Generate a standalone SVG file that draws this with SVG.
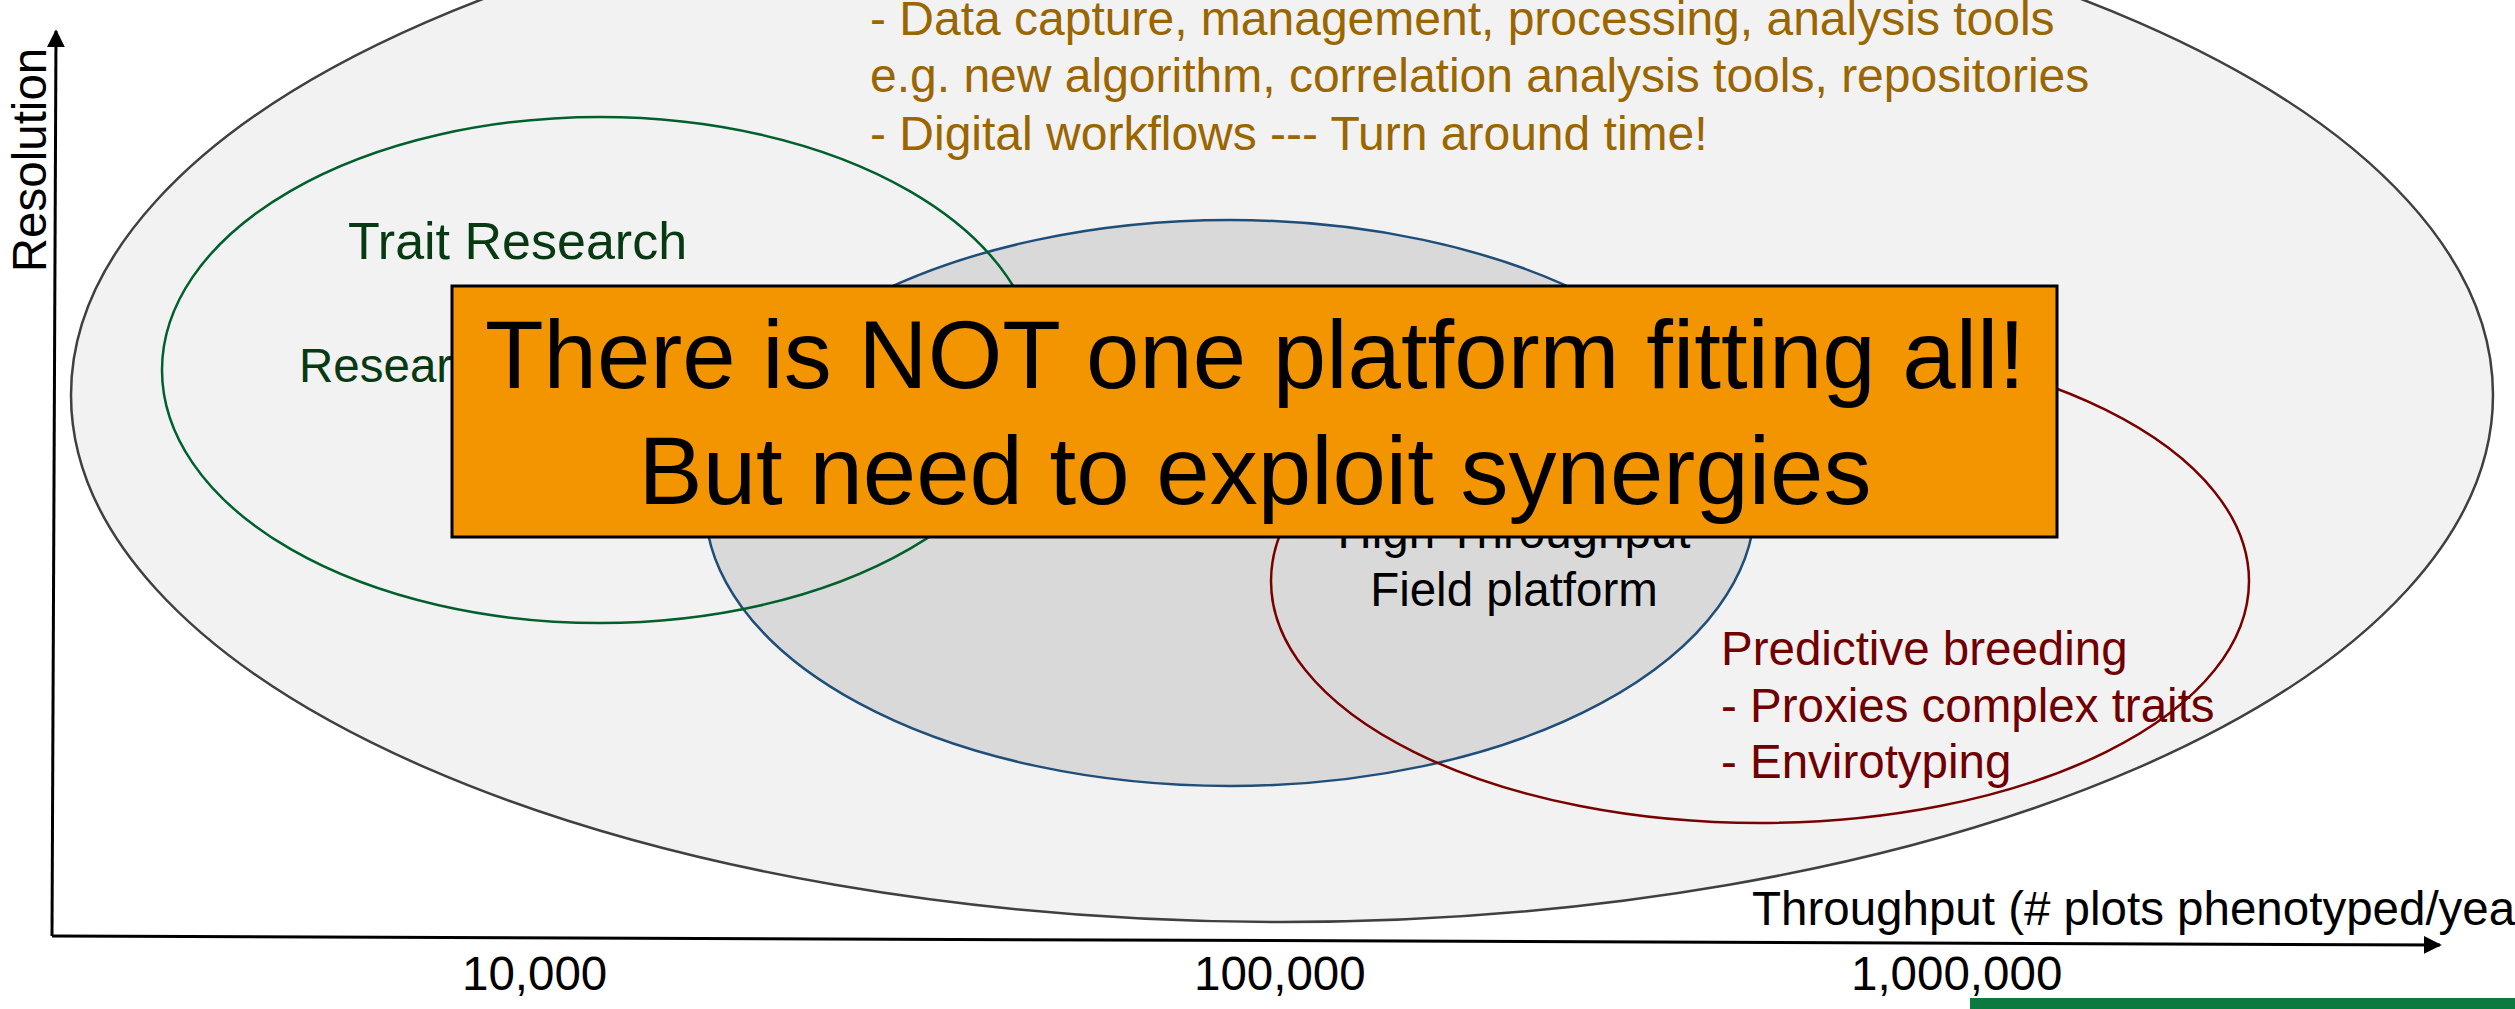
<svg xmlns="http://www.w3.org/2000/svg" width="2515" height="1009" viewBox="0 0 2515 1009">
<style>
text{font-family:"Liberation Sans",Arial,sans-serif}
.brown{fill:#9a6600;font-size:48px}
.green{fill:#073a12}
.red{fill:#700000;font-size:47.5px}
.blk{fill:#000;font-size:47.5px}
.big{fill:#000;font-size:96px}
.axis{stroke:#000;stroke-width:3;fill:none}
</style>
<defs>
<marker id="arr" viewBox="0 0 10 10" refX="9" refY="5" markerWidth="6" markerHeight="6" markerUnits="strokeWidth" orient="auto">
<path d="M0,0 L10,5 L0,10 z" fill="#000"/>
</marker>
</defs>
<rect width="2515" height="1009" fill="#fff"/>
<g id="outer">
<ellipse cx="1282" cy="395" rx="1211" ry="527" fill="#f2f2f2" stroke="#404040" stroke-width="2.5"/>
<text class="brown" x="870" y="35">- Data capture, management, processing, analysis tools</text>
<text class="brown" x="870" y="92">e.g. new algorithm, correlation analysis tools, repositories</text>
<text class="brown" x="870" y="150">- Digital workflows --- Turn around time!</text>
</g>
<g id="field">
<ellipse cx="1230" cy="503" rx="525" ry="283" fill="#d9d9d9" stroke="#1f4e79" stroke-width="2.5"/>
</g>
<g id="trait">
<ellipse cx="600" cy="370" rx="438" ry="253" fill="none" stroke="#00602b" stroke-width="2.5"/>
<text class="green" x="348" y="259" font-size="52">Trait Research</text>
<text class="green" x="299" y="382" font-size="47.5">Resear</text>
</g>
<g id="predictive">
<ellipse cx="1760" cy="581" rx="489" ry="242" fill="none" stroke="#7a0000" stroke-width="2.5"/>
<text class="red" x="1721" y="665">Predictive breeding</text>
<text class="red" x="1721" y="722">- Proxies complex traits</text>
<text class="red" x="1721" y="778">- Envirotyping</text>
</g>
<g id="field-label">
<text class="blk" x="1514" y="548" text-anchor="middle">High Throughput</text>
<text class="blk" x="1514" y="606" text-anchor="middle">Field platform</text>
</g>
<g id="connectors">
<line class="axis" x1="52" y1="936" x2="56" y2="31" marker-end="url(#arr)"/>
<line class="axis" x1="52" y1="936" x2="2440" y2="945" marker-end="url(#arr)"/>
</g>
<g id="axis-labels">
<text class="blk" transform="translate(46,160) rotate(-90)" text-anchor="middle" font-size="48">Resolution</text>
<text class="blk" x="1752" y="925">Throughput (# plots phenotyped/year)</text>
<text class="blk" x="462" y="990">10,000</text>
<text class="blk" x="1194" y="990">100,000</text>
<text class="blk" x="1851" y="990">1,000,000</text>
</g>
<g id="callout">
<rect x="452" y="286" width="1605" height="251" fill="#f39500" stroke="#000" stroke-width="3"/>
<text class="big" x="1255" y="388" text-anchor="middle">There is NOT one platform fitting all!</text>
<text class="big" x="1255" y="504" text-anchor="middle">But need to exploit synergies</text>
</g>
<rect id="bar" x="1970" y="998" width="545" height="11" fill="#0a7a3f"/>
</svg>
